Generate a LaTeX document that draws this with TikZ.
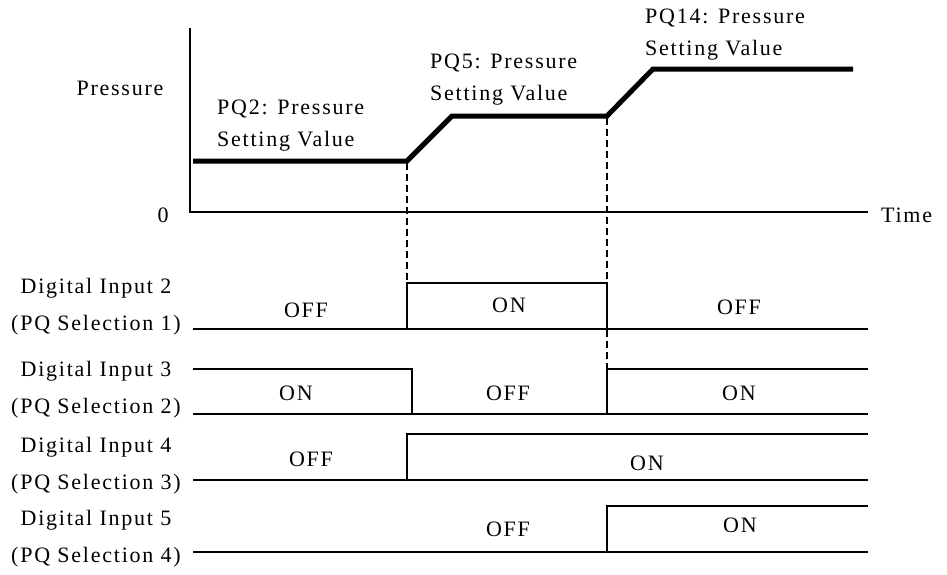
\documentclass[tikz,border=0pt]{standalone}
\usepackage{fontspec}
\setmainfont{Liberation Serif}[LetterSpace=8]
\begin{document}
\begin{tikzpicture}[x=1pt, y=-1pt,
    txt/.style={font=\fontsize{22}{37}\selectfont, inner sep=0pt, align=center},
    pqtxt/.style={font=\fontsize{22}{32}\selectfont, inner sep=0pt, align=left, anchor=west},
    sig/.style={line width=1.4pt},
    press/.style={line width=5pt, line join=miter},
    guide/.style={line width=1.4pt, dash pattern=on 7pt off 4pt},
]
    \useasboundingbox (0,0) rectangle (947,574);

    % Switching instants
    \coordinate (ta) at (407,0);
    \coordinate (tb) at (607,0);

    % Pressure axes
    \draw[sig] (190,28) -- (190,212) -- (868,212);
    \node[txt] (plabel) at (120,88) {Pressure};
    \node[txt] (zero) at (163,215) {0};
    \node[txt, anchor=west] (time) at (881,215) {Time};

    % Pressure curve
    \draw[press] (193,161) -- (ta |- 0,161) -- (452,116) -- (tb |- 0,116) -- (653,69) -- (853,69);
    \node[pqtxt] (pq2) at (217,126) {PQ2: Pressure\\Setting Value};
    \node[pqtxt] (pq5) at (430,80) {PQ5: Pressure\\Setting Value};
    \node[pqtxt] (pq14) at (645,35) {PQ14: Pressure\\Setting Value};

    % Guide lines
    \draw[guide] (ta |- 0,163) -- (ta |- 0,283);
    \draw[guide] (tb |- 0,118) -- (tb |- 0,283);
    \draw[guide] (tb |- 0,330) -- (tb |- 0,369);

    % Digital Input 2
    \node[txt] (di2) at (96,307) {Digital Input 2\\(PQ Selection 1)};
    \draw[sig] (193,329) -- (868,329);
    \draw[sig] (ta |- 0,329) rectangle (tb |- 0,283);
    \node[txt] (di2a) at (306,310) {OFF};
    \node[txt] (di2b) at (509,305) {ON};
    \node[txt] (di2c) at (739,307) {OFF};

    % Digital Input 3
    \node[txt] (di3) at (96,390) {Digital Input 3\\(PQ Selection 2)};
    \draw[sig] (193,414) -- (868,414);
    \draw[sig] (193,369) -- (412,369) -- (412,414);
    \draw[sig] (tb |- 0,414) -- (tb |- 0,369) -- (868,369);
    \node[txt] (di3a) at (296,393) {ON};
    \node[txt] (di3b) at (508,393) {OFF};
    \node[txt] (di3c) at (739,393) {ON};

    % Digital Input 4
    \node[txt] (di4) at (96,466) {Digital Input 4\\(PQ Selection 3)};
    \draw[sig] (193,480) -- (868,480);
    \draw[sig] (ta |- 0,480) -- (ta |- 0,434) -- (868,434);
    \node[txt] (di4a) at (311,459) {OFF};
    \node[txt] (di4b) at (647,463) {ON};

    % Digital Input 5
    \node[txt] (di5) at (96,539) {Digital Input 5\\(PQ Selection 4)};
    \draw[sig] (193,552) -- (868,552);
    \draw[sig] (tb |- 0,552) -- (tb |- 0,506) -- (868,506);
    \node[txt] (di5a) at (508,529) {OFF};
    \node[txt] (di5b) at (740,525) {ON};
\end{tikzpicture}
\end{document}
